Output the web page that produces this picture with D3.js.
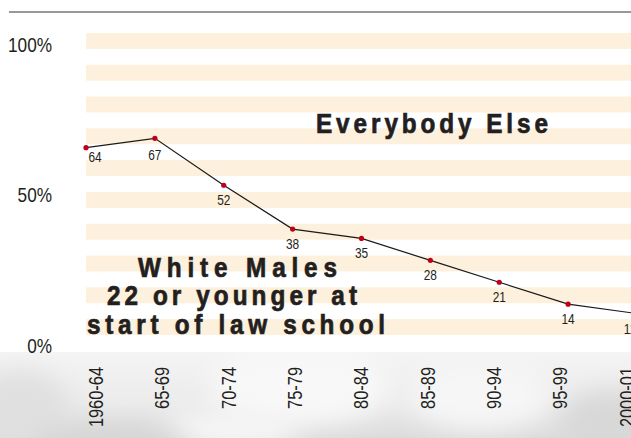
<!DOCTYPE html>
<html><head><meta charset="utf-8">
<script src="https://cdn.jsdelivr.net/npm/d3@7"></script>
<style>
html,body{margin:0;padding:0;background:#fff;overflow:hidden}
text{font-family:"Liberation Sans",Arial,sans-serif;fill:#231f20}
</style></head>
<body>
<svg id="chart" width="631" height="438"></svg>
<script>
const categories = ["1960-64","65-69","70-74","75-79","80-84","85-89","90-94","95-99","2000-01"];
const values = [64, 67, 52, 38, 35, 28, 21, 14, 11];
const yTicks = [0, 50, 100];
const groupLabels = ["Everybody Else"];
const whiteMaleLines = ["White Males", "22 or younger at", "start of law school"];

const W = 631, H = 438;
const SX = 0.82; // condensed look
const SXB = 0.9;
const svg = d3.select("#chart");
const defs = svg.append("defs");

// bottom photographic-like background
const g1 = defs.append("linearGradient").attr("id","bg").attr("x1",0).attr("y1",0).attr("x2",0).attr("y2",1);
g1.append("stop").attr("offset","0%").attr("stop-color","#f4f4f4");
g1.append("stop").attr("offset","60%").attr("stop-color","#ebebeb");
g1.append("stop").attr("offset","100%").attr("stop-color","#dcdcdc");
const blur = defs.append("filter").attr("id","blur").attr("x","-50%").attr("y","-50%").attr("width","200%").attr("height","200%");
blur.append("feGaussianBlur").attr("stdDeviation",12);
const clip = defs.append("clipPath").attr("id","bgclip");
clip.append("rect").attr("x",0).attr("y",352).attr("width",W).attr("height",H-352);

const bgG = svg.append("g").attr("clip-path","url(#bgclip)");
bgG.append("rect").attr("x",0).attr("y",352).attr("width",W).attr("height",H-352).attr("fill","url(#bg)");
const blobs = [
  {cx:20,cy:410,rx:50,ry:40,c:"#e0e0e0"},
  {cx:300,cy:385,rx:90,ry:40,c:"#f8f8f8"},
  {cx:230,cy:430,rx:70,ry:20,c:"#f6f6f6"},
  {cx:480,cy:395,rx:70,ry:35,c:"#f6f6f6"},
  {cx:610,cy:425,rx:50,ry:35,c:"#d8d8d8"},
  {cx:110,cy:445,rx:80,ry:20,c:"#d6d6d6"}
];
bgG.selectAll("ellipse").data(blobs).join("ellipse")
  .attr("cx",d=>d.cx).attr("cy",d=>d.cy).attr("rx",d=>d.rx).attr("ry",d=>d.ry)
  .attr("fill",d=>d.c).attr("filter","url(#blur)");

// top rule
svg.append("line").attr("x1",9).attr("x2",W).attr("y1",12).attr("y2",12)
  .attr("stroke","#98989a").attr("stroke-width",2);

// scales
const x = d3.scalePoint().domain(categories).range([86, 637]);
const xLab = d3.scalePoint().domain(categories).range([95.5, 626]);
const y = d3.scaleLinear().domain([0,100]).range([348, 35]);
const yLab = d3.scaleLinear().domain([0,100]).range([345, 44]);

// stripes: 19 alternating bands
const bandTop = 33, bandBot = 335, nBands = 19;
const band = d3.scaleBand().domain(d3.range(nBands)).range([bandTop, bandBot]);
svg.append("g").selectAll("rect").data(d3.range(0,nBands,2)).join("rect")
  .attr("x",86).attr("width",W-86)
  .attr("y",d=>band(d)).attr("height",band.bandwidth())
  .attr("fill","#fdf0dc");

// y tick labels
svg.append("g").selectAll("text").data(yTicks).join("text")
  .attr("transform",d=>`translate(52,${yLab(d)}) scale(${SX},1)`)
  .attr("dy","0.36em")
  .attr("text-anchor","end").attr("font-size",21)
  .text(d=>d+"%");

// group labels (bold, letter-spaced)
function boldText(sel){
  sel.attr("font-size",27).attr("font-weight","bold")
     .attr("stroke","#231f20").attr("stroke-width",0.7).attr("lengthAdjust","spacing");
}
svg.append("text").attr("transform",`translate(316,133) scale(${SXB},1)`)
  .attr("textLength",232/SXB).call(boldText)
  .text(groupLabels[0]);
const wmPos = [{x:138,w:199,y:277},{x:107,w:250,y:305},{x:87,w:298,y:334}];
svg.append("g").selectAll("text").data(whiteMaleLines).join("text")
  .attr("transform",(d,i)=>`translate(${wmPos[i].x},${wmPos[i].y}) scale(${SXB},1)`)
  .attr("textLength",(d,i)=>wmPos[i].w/SXB).call(boldText)
  .text(d=>d);

// line
const pts = categories.map((c,i)=>({c, v:values[i]}));
svg.append("path").datum(pts)
  .attr("d", d3.line().x(d=>x(d.c)).y(d=>y(d.v)))
  .attr("fill","none").attr("stroke","#1a1a1a").attr("stroke-width",1.2);

svg.append("g").selectAll("circle").data(pts).join("circle")
  .attr("cx",d=>x(d.c)).attr("cy",d=>y(d.v)).attr("r",2.6)
  .attr("fill","#c0001a");

// value labels
const last = pts.length - 1;
svg.append("g").selectAll("text").data(pts).join("text")
  .attr("transform",(d,i)=>{
    const lx = i===0 ? x(d.c)+9 : (i===last ? x(d.c)-7 : x(d.c));
    const ly = i===0 ? y(d.v)+14 : (i===1 ? y(d.v)+22 : y(d.v)+20);
    return `translate(${lx},${ly}) scale(${SX},1)`;
  })
  .attr("text-anchor","middle").attr("font-size",14.5)
  .text(d=>d.v);

// x labels (rotated)
svg.append("g").selectAll("text").data(categories).join("text")
  .attr("transform",d=>`translate(${xLab(d)+7.5},367) rotate(-90) scale(${SX},1)`)
  .attr("text-anchor","end").attr("font-size",20)
  .text(d=>d);
</script>
</body></html>
